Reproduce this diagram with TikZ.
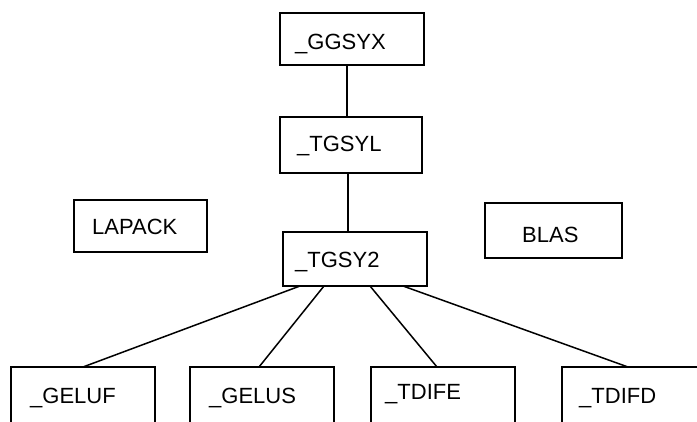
\documentclass[tikz,border=0pt]{standalone}
\usepackage{fontspec}
\setmainfont{Liberation Sans}
\usetikzlibrary{calc}
\begin{document}
\begin{tikzpicture}[x=1pt,y=1pt,
  box/.style={draw=black,line width=1.5pt,inner sep=0pt,outer sep=0pt,anchor=south west,minimum height=#1},
  box/.default=52pt,
  lbl/.style={anchor=base west,inner sep=0pt,font=\fontsize{22}{24}\selectfont},
  link/.style={line width=1.5pt}]
\useasboundingbox (0,0) rectangle (697,421);
\clip (0,0) rectangle (697,421);
\node[box=52pt,minimum width=144pt] (ggsyx) at (280,356) {};
\node[box=56pt,minimum width=142pt] (tgsyl) at (280,248) {};
\node[box=54pt,minimum width=144pt] (tgsy2) at (283,135) {};
\node[box=52pt,minimum width=133pt] (lapack) at (74,169) {};
\node[box=55pt,minimum width=137pt] (blas) at (485,163) {};
\node[box=70pt,minimum width=144pt] (geluf) at (11,-16) {};
\node[box=70pt,minimum width=144pt] (gelus) at (190,-16) {};
\node[box=70pt,minimum width=144pt] (tdife) at (371,-16) {};
\node[box=70pt,minimum width=144pt] (tdifd) at (562,-16) {};
\node[lbl] (tggsyx) at (295,371) {\_GGSYX};
\node[lbl] (ttgsyl) at (297,269) {\_TGSYL};
\node[lbl] (ttgsy2) at (295,153) {\_TGSY2};
\node[lbl] (tlapack) at (92,186) {LAPACK};
\node[lbl] (tblas) at (522,178) {BLAS};
\node[lbl] (tgeluf) at (30,18) {\_GELUF};
\node[lbl] (tgelus) at (209,18) {\_GELUS};
\node[lbl] (ttdife) at (385,22) {\_TDIFE};
\node[lbl] (ttdifd) at (579,18) {\_TDIFD};
\draw[link] ($(ggsyx.south west)+(67,0)$) -- ($(tgsyl.north west)+(67,0)$);
\draw[link] ($(tgsyl.south west)+(68,0)$) -- ($(tgsy2.north west)+(65,0)$);
\draw[link] ($(tgsy2.south west)+(17,0)$) -- ($(geluf.north west)+(72,0)$);
\draw[link] ($(tgsy2.south west)+(41,0)$) -- ($(gelus.north west)+(69,0)$);
\draw[link] ($(tgsy2.south west)+(87,0)$) -- ($(tdife.north west)+(66,0)$);
\draw[link] ($(tgsy2.south west)+(120,0)$) -- ($(tdifd.north west)+(66,0)$);
\end{tikzpicture}
\end{document}
